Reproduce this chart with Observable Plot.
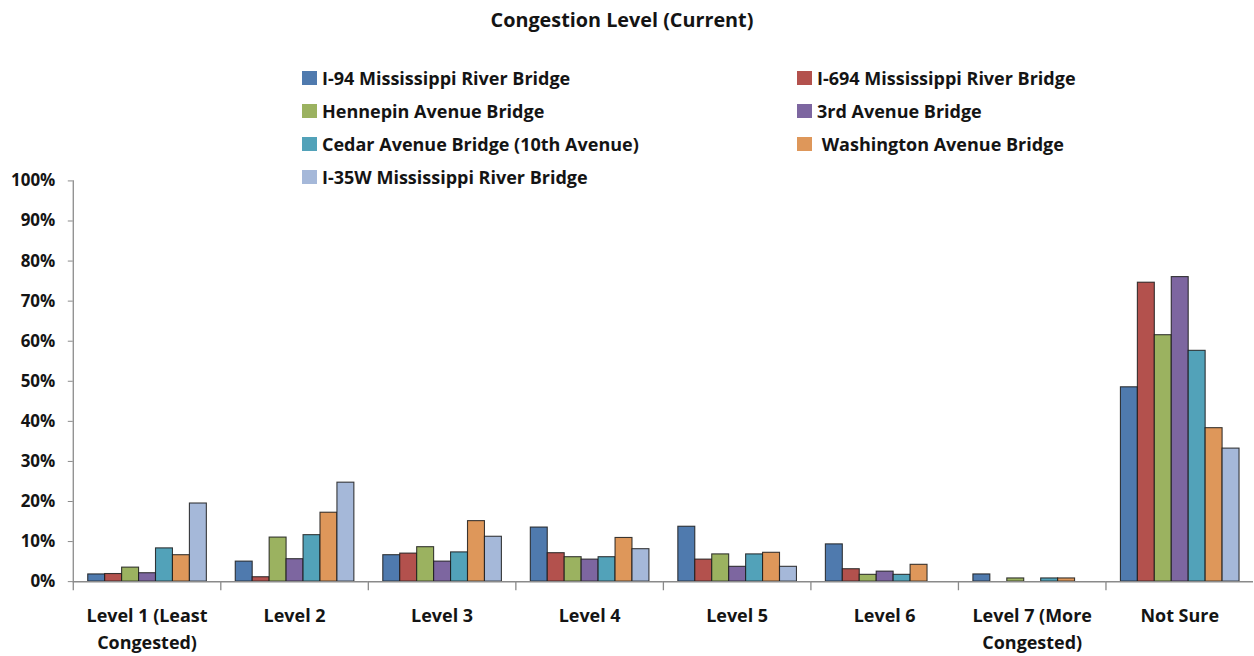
<!DOCTYPE html>
<html>
<head>
<meta charset="utf-8">
<script src="https://cdn.jsdelivr.net/npm/d3@7"></script>
<script src="https://cdn.jsdelivr.net/npm/@observablehq/plot@0.6"></script>
<style>
  html, body { margin: 0; padding: 0; background: #fff; overflow: hidden; }
  #wrap { position: relative; width: 1254px; height: 656px; font-family: "Open Sans", Lato, sans-serif; color: #141414; }
  #title { position: absolute; left: 0; top: 6px; width: 1244px; text-align: center; font-weight: 700; font-size: 19.8px; }
  .item { position: absolute; display: flex; align-items: center; font-weight: 700; font-size: 18px; white-space: pre; height: 24px; }
  .sw { width: 15px; height: 14px; margin-right: 5px; flex: none; }
  #chart { position: absolute; left: 0; top: 0; }
</style>
</head>
<body>
<div id="wrap">
  <div id="chart"></div>
  <div id="title">Congestion Level (Current)</div>
  <div id="legend"></div>
</div>
<script>
const categories = ["Level 1 (Least Congested)", "Level 2", "Level 3", "Level 4", "Level 5", "Level 6", "Level 7 (More Congested)", "Not Sure"];
const categoryLabels = ["Level 1 (Least\nCongested)", "Level 2", "Level 3", "Level 4", "Level 5", "Level 6", "Level 7 (More\nCongested)", "Not Sure"];
const series = ["I-94 Mississippi River Bridge", "I-694 Mississippi River Bridge", "Hennepin Avenue Bridge", "3rd Avenue Bridge", "Cedar Avenue Bridge (10th Avenue)", "Washington Avenue Bridge", "I-35W Mississippi River Bridge"];
const colors = ["#4f7aae", "#b3514d", "#9bb260", "#7d66a0", "#52a2b9", "#de975a", "#a5b8d9"];

// values in percent, one array per bridge, ordered like categories
const i94       = [1.8, 5.0, 6.6, 13.5, 13.7, 9.3, 1.8, 48.5];
const i694      = [1.9, 1.1, 7.0, 7.1, 5.5, 3.1, 0, 74.6];
const hennepin  = [3.5, 11.0, 8.6, 6.1, 6.8, 1.7, 0.8, 61.5];
const third     = [2.1, 5.6, 5.0, 5.5, 3.7, 2.5, 0, 76.0];
const cedar     = [8.3, 11.6, 7.3, 6.1, 6.8, 1.7, 0.8, 57.6];
const washington= [6.6, 17.2, 15.1, 10.9, 7.2, 4.2, 0.8, 38.3];
const i35w      = [19.5, 24.7, 11.2, 8.1, 3.7, 0, 0, 33.2];

const yTicks = [0, 10, 20, 30, 40, 50, 60, 70, 80, 90, 100];

const seriesValues = [i94, i694, hennepin, third, cedar, washington, i35w];
const data = [];
series.forEach((s, si) => categories.forEach((c, ci) => data.push({category: c, series: s, value: seriesValues[si][ci]})));

const labelOf = new Map(categories.map((c, i) => [c, categoryLabels[i]]));
const grey = "#8a8a8a";
const ink = "#141414";

const chart = Plot.plot({
  width: 1258,
  height: 656,
  marginTop: 181,
  marginBottom: 73,
  marginLeft: 71,
  marginRight: 0,
  style: {fontFamily: "'Open Sans', Lato, sans-serif", background: "transparent"},
  fx: {domain: categories, padding: 0, label: null},
  x: {domain: series, paddingInner: 0, paddingOuter: 0.68, axis: null},
  y: {domain: [0, 100], label: null},
  color: {domain: series, range: colors},
  marks: [
    Plot.frame({anchor: "left", facetAnchor: "left", stroke: grey, strokeWidth: 1.3}),
    Plot.frame({anchor: "left", stroke: grey, strokeWidth: 1.3, insetTop: 402, insetBottom: -8}),
    Plot.barY(data, {fx: "category", x: "series", y: "value", fill: "series", stroke: "#1a1a1a", strokeWidth: 1.1, strokeOpacity: 0.85}),
    Plot.ruleY([0], {stroke: grey, strokeWidth: 1.5}),
    Plot.axisY({ticks: yTicks, tickFormat: d => d + "%", tickSize: 5, tickPadding: 13, stroke: grey, fill: ink, fontSize: 17, fontWeight: 700, label: null}),
    Plot.axisFx({anchor: "bottom", tickSize: 0, tickPadding: 21, tickFormat: d => labelOf.get(d), fill: ink, fontSize: 18, fontWeight: 700, lineHeight: 1.5, label: null})
  ]
});
document.getElementById("chart").appendChild(chart);

// legend
const legend = document.getElementById("legend");
const legendPos = [
  [302, 78], [797, 78],
  [302, 111], [797, 111],
  [302, 144], [797, 144],
  [302, 177]
];
const legendText = series.map(s => s === "Washington Avenue Bridge" ? " " + s : s);
series.forEach((s, i) => {
  const el = document.createElement("div");
  el.className = "item";
  el.style.left = legendPos[i][0] + "px";
  el.style.top = (legendPos[i][1] - 12) + "px";
  const sw = document.createElement("span");
  sw.className = "sw";
  sw.style.background = colors[i];
  const t = document.createElement("span");
  t.textContent = legendText[i];
  el.appendChild(sw);
  el.appendChild(t);
  legend.appendChild(el);
});
</script>
</body>
</html>
